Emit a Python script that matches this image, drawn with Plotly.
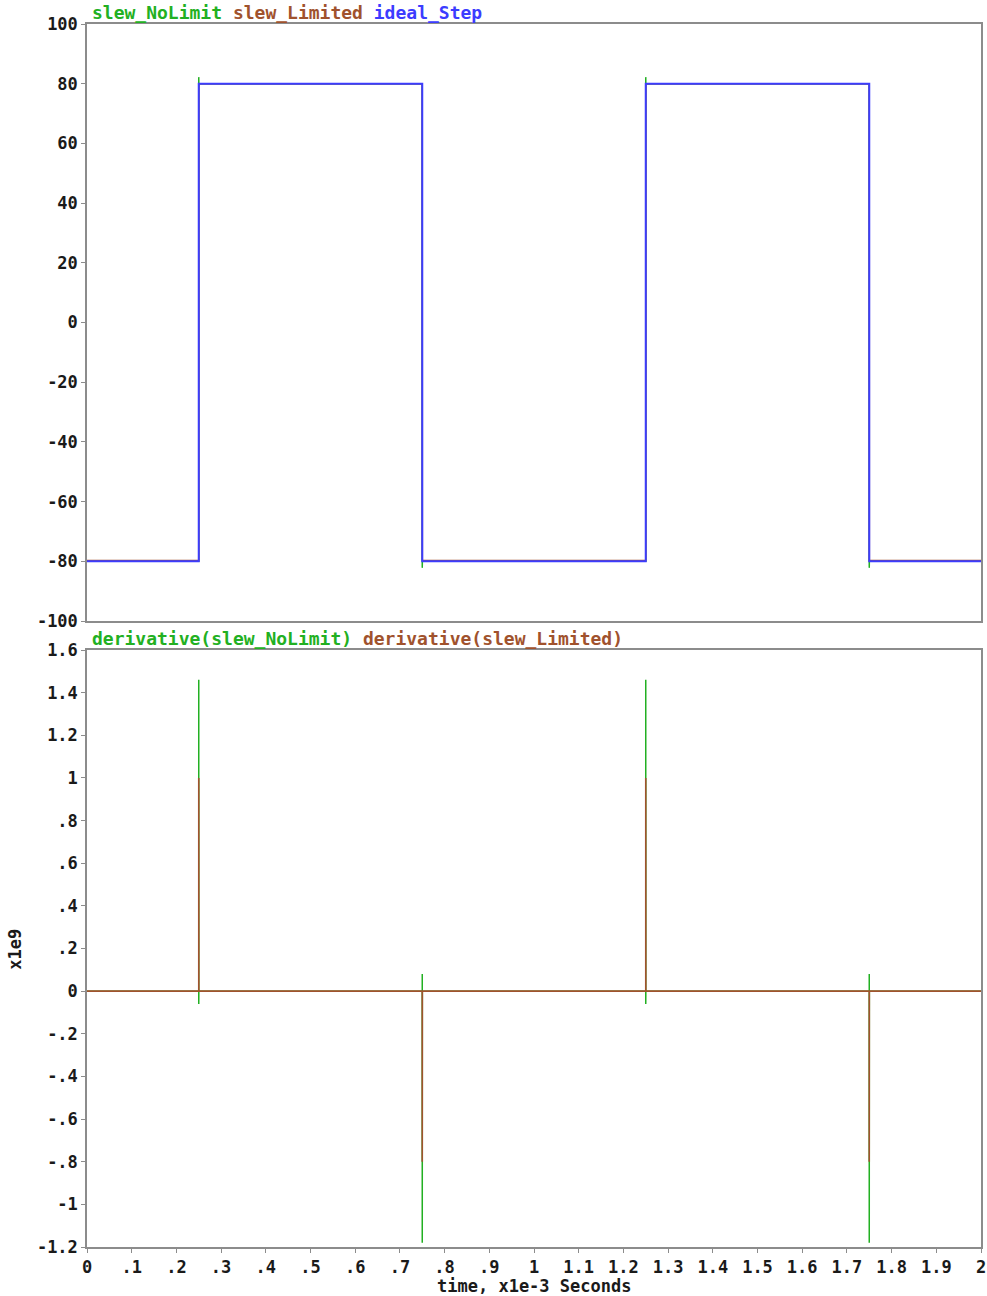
import plotly.graph_objects as go
from plotly.subplots import make_subplots

# ---- data (time in ms) ----
t_nolimit = [0, 0.25, 0.25, 0.2502, 0.75, 0.75, 0.7502, 1.25, 1.25, 1.2502, 1.75, 1.75, 1.7502, 2.0]
v_nolimit = [-80, -80, 82.2, 80, 80, -82.2, -80, -80, 82.2, 80, 80, -82.2, -80, -80]

t_limited = [0, 0.25, 0.2502, 0.75, 0.7502, 1.25, 1.2502, 1.75, 1.7502, 2.0]
v_limited = [-79.7, -79.7, 80, 80, -79.7, -79.7, 80, 80, -79.7, -79.7]

t_ideal = [0, 0.25, 0.25, 0.75, 0.75, 1.25, 1.25, 1.75, 1.75, 2.0]
v_ideal = [-80, -80, 80, 80, -80, -80, 80, 80, -80, -80]

t_d_nolimit = [0, 0.25, 0.25, 0.25, 0.2502, 0.75, 0.75, 0.75, 0.7502, 1.25, 1.25, 1.25, 1.2502, 1.75, 1.75, 1.75, 1.7502, 2.0]
v_d_nolimit = [0, 0, 1.46, -0.06, 0, 0, 0.08, -1.18, 0, 0, 1.46, -0.06, 0, 0, 0.08, -1.18, 0, 0]

t_d_limited = [0, 0.25, 0.25, 0.2502, 0.75, 0.75, 0.7502, 1.25, 1.25, 1.2502, 1.75, 1.75, 1.7502, 2.0]
v_d_limited = [0, 0, 1.0, 0, 0, -0.8, 0, 0, 1.0, 0, 0, -0.8, 0, 0]

x_ticks = [0, 0.1, 0.2, 0.3, 0.4, 0.5, 0.6, 0.7, 0.8, 0.9, 1, 1.1, 1.2, 1.3, 1.4, 1.5, 1.6, 1.7, 1.8, 1.9, 2]
x_ticktext = ["0", ".1", ".2", ".3", ".4", ".5", ".6", ".7", ".8", ".9", "1", "1.1", "1.2", "1.3", "1.4", "1.5", "1.6", "1.7", "1.8", "1.9", "2"]
y1_ticks = [100, 80, 60, 40, 20, 0, -20, -40, -60, -80, -100]
y1_ticktext = ["100", "80", "60", "40", "20", "0", "-20", "-40", "-60", "-80", "-100"]
y2_ticks = [1.6, 1.4, 1.2, 1.0, 0.8, 0.6, 0.4, 0.2, 0, -0.2, -0.4, -0.6, -0.8, -1.0, -1.2]
y2_ticktext = ["1.6", "1.4", "1.2", "1", ".8", ".6", ".4", ".2", "0", "-.2", "-.4", "-.6", "-.8", "-1", "-1.2"]

GREEN = "#22b022"
BROWN = "#a0522d"
BLUE = "#3c3cff"
TXT = "#1a1a1a"
TICKFONT = dict(family="DejaVu Sans Mono", size=17, color=TXT, weight="bold")

W, H = 987, 1296
fig = make_subplots(rows=2, cols=1, vertical_spacing=29 / 1223, shared_xaxes=False)

fig.add_trace(go.Scatter(x=t_nolimit, y=v_nolimit, mode="lines", line=dict(color=GREEN, width=1.5), name="slew_NoLimit"), row=1, col=1)
fig.add_trace(go.Scatter(x=t_limited, y=v_limited, mode="lines", line=dict(color=BROWN, width=1.5), name="slew_Limited"), row=1, col=1)
fig.add_trace(go.Scatter(x=t_ideal, y=v_ideal, mode="lines", line=dict(color=BLUE, width=2), name="ideal_Step"), row=1, col=1)

fig.add_trace(go.Scatter(x=t_d_nolimit, y=v_d_nolimit, mode="lines", line=dict(color=GREEN, width=1.5), name="derivative(slew_NoLimit)"), row=2, col=1)
fig.add_trace(go.Scatter(x=t_d_limited, y=v_d_limited, mode="lines", line=dict(color=BROWN, width=1.6), name="derivative(slew_Limited)"), row=2, col=1)

axis_common = dict(showline=True, linecolor="#8c8c8c", linewidth=1.5, mirror=True,
                   showgrid=False, zeroline=False, ticks="outside", ticklen=4,
                   tickcolor="#8c8c8c", tickfont=TICKFONT, automargin=False)

fig.update_xaxes(range=[0, 2], tickvals=x_ticks, ticktext=x_ticktext, ticklabeloverflow="allow", **axis_common)
fig.update_xaxes(showticklabels=False, ticks="", row=1, col=1)
fig.update_yaxes(range=[-100, 100], tickvals=y1_ticks, ticktext=y1_ticktext, **axis_common, row=1, col=1)
fig.update_yaxes(range=[-1.2, 1.6], tickvals=y2_ticks, ticktext=y2_ticktext, **axis_common, row=2, col=1)

fig.update_layout(
    width=W, height=H,
    margin=dict(l=87, r=6, t=24, b=49),
    paper_bgcolor="white", plot_bgcolor="white",
    showlegend=False,
    annotations=[
        dict(xref="paper", yref="paper", x=0.003, y=1.0, xanchor="left", yanchor="bottom", yshift=-1,
             showarrow=False, font=dict(family="DejaVu Sans Mono", size=18, weight="bold"),
             text=f"<span style='color:{GREEN}'>slew_NoLimit</span> <span style='color:{BROWN}'>slew_Limited</span> <span style='color:{BLUE}'>ideal_Step</span>"),
        dict(xref="paper", yref="paper", x=0.003, y=597 / 1223, xanchor="left", yanchor="bottom", yshift=-1,
             showarrow=False, font=dict(family="DejaVu Sans Mono", size=18, weight="bold"),
             text=f"<span style='color:{GREEN}'>derivative(slew_NoLimit)</span> <span style='color:{BROWN}'>derivative(slew_Limited)</span>"),
        dict(xref="paper", yref="paper", x=0.5, y=0, xanchor="center", yanchor="top", yshift=-27,
             showarrow=False, font=dict(family="DejaVu Sans Mono", size=17, color=TXT, weight="bold"),
             text="time, x1e-3 Seconds"),
        dict(xref="paper", yref="paper", x=0, y=0.243, xanchor="center", yanchor="middle", xshift=-72,
             showarrow=False, textangle=-90, font=dict(family="DejaVu Sans Mono", size=17, color=TXT, weight="bold"),
             text="x1e9"),
    ],
)

# remove the default 8px page margin so the figure fills the window exactly
fig.write_html("out.html", config={"displayModeBar": False},
               post_script="document.body.style.margin='0';document.body.style.overflow='hidden';")
